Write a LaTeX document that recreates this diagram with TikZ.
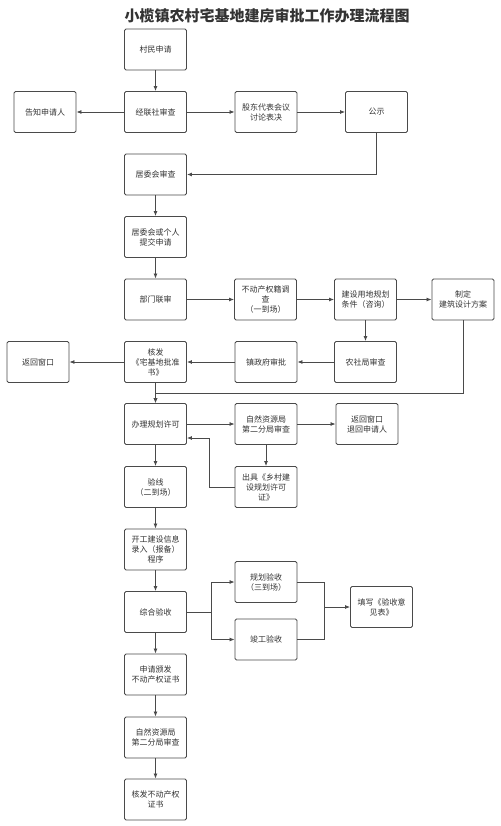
\documentclass[tikz,border=0pt]{standalone}
\usepackage{fontspec}
\setmainfont{Noto Sans CJK SC}
\usepackage{xcolor}
\usetikzlibrary{arrows.meta,calc}
\definecolor{linegray}{HTML}{4A4A4A}
\definecolor{textgray}{HTML}{333333}

\begin{document}
\begin{tikzpicture}[
          x=1pt,y=-1pt,
          every node/.style={font=\fontsize{8}{10}\selectfont,text=textgray},
          stepbox/.style={draw=linegray,line width=0.9pt,rounded corners=1.5pt,fill=white,
                          minimum width=62pt,minimum height=41pt,align=center,inner sep=2pt},
          arr/.style={-{Latex[length=5pt,width=4pt]}, line width=0.8pt, draw=linegray},
          ln/.style={line width=0.8pt, draw=linegray}
      ]
        \useasboundingbox (0,0) rectangle (500,826);

        \node[font=\fontsize{15}{17}\bfseries\selectfont] (title) at (267,16)
          {小榄镇农村宅基地建房审批工作办理流程图};

        \node[stepbox] (apply)   at (155.5,49.5) {村民申请};
        \node[stepbox] (inform)  at (45,112)     {告知申请人};
        \node[stepbox] (jls)     at (155.5,112)  {经联社审查};
        \node[stepbox] (gudong)  at (266,112)    {股东代表会议\\讨论表决};
        \node[stepbox] (gongshi) at (376.5,112)  {公示};
        \node[stepbox] (jwh)     at (155.5,174.5){居委会审查};
        \node[stepbox] (tijiao)  at (155.5,237)  {居委会或个人\\提交申请};

        \node[stepbox] (lianshen) at (155.5,299.5) {部门联审};
        \node[stepbox] (budong)   at (265.5,299.5) {不动产权籍调\\查\\（一到场）};
        \node[stepbox] (ydgh)     at (365.5,299.5) {建设用地规划\\条件（咨询）};
        \node[stepbox] (sheji)    at (463,299.5)   {制定\\建筑设计方案};
        \node[stepbox] (fanhui)   at (38,362)      {返回窗口};
        \node[stepbox] (hefa)     at (155.5,362)   {核发\\《宅基地批准\\书》};
        \node[stepbox] (zhenfu)   at (266,362)     {镇政府审批};
        \node[stepbox] (nongshe)  at (365.5,362)   {农社局审查};

        \node[stepbox] (banli)    at (155.5,424)   {办理规划许可};
        \node[stepbox] (zrzyA)    at (266,424)     {自然资源局\\第二分局审查};
        \node[stepbox] (tuihui)   at (367,424)     {返回窗口\\退回申请人};
        \node[stepbox] (yanxian)  at (155.5,487)   {验线\\（二到场）};
        \node[stepbox] (chuju)    at (266,487)     {出具《乡村建\\设规划许可\\证》};

        \node[stepbox] (kaigong)  at (155.5,549.5) {开工建设信息\\录入（报备）\\程序};
        \node[stepbox] (zonghe)   at (155.5,612)   {综合验收};
        \node[stepbox] (guihua)   at (266,582)     {规划验收\\（三到场）};
        \node[stepbox] (jungong)  at (266,639.5)   {竣工验收};
        \node[stepbox] (tianxie)  at (381.5,607)   {填写《验收意\\见表》};
        \node[stepbox] (shenqing) at (155.5,674.5) {申请颁发\\不动产权证书};
        \node[stepbox] (zrzyB)    at (155.5,737.5) {自然资源局\\第二分局审查};
        \node[stepbox] (hefaB)    at (155.5,799.5) {核发不动产权\\证书};

        \coordinate (join)  at ($(hefa.south)!.5!(banli.north)$);
        \coordinate (split) at (211,612);
        \coordinate (merge) at (324,607);

        \draw[arr] (apply) -- (jls);
        \draw[arr] (jls) -- (inform);
        \draw[arr] (jls) -- (gudong);
        \draw[arr] (gudong) -- (gongshi);
        \draw[arr] (gongshi.south) |- (jwh.east);
        \draw[arr] (jwh) -- (tijiao);
        \draw[arr] (tijiao) -- (lianshen);
        \draw[arr] (lianshen) -- (budong);
        \draw[arr] (budong) -- (ydgh);
        \draw[arr] (ydgh) -- (sheji);
        \draw[arr] (ydgh) -- (nongshe);
        \draw[arr] (nongshe) -- (zhenfu);
        \draw[arr] (zhenfu) -- (hefa);
        \draw[arr] (hefa) -- (fanhui);
        \draw[arr] (hefa) -- (banli);
        \draw[arr] (sheji.south) |- (join) -- (banli.north);
        \draw[arr] (banli) -- (zrzyA);
        \draw[arr] (zrzyA) -- (tuihui);
        \draw[arr] (zrzyA) -- (chuju);
        \draw[arr] (chuju.west) -- ++(-25,0) |- ([yshift=-14pt]banli.east);
        \draw[arr] (banli) -- (yanxian);
        \draw[arr] (yanxian) -- (kaigong);
        \draw[arr] (kaigong) -- (zonghe);
        \draw[ln]  (zonghe.east) -- (split);
        \draw[arr] (split) |- (guihua.west);
        \draw[arr] (split) |- (jungong.west);
        \draw[ln]  (guihua.east) -| (merge);
        \draw[ln]  (jungong.east) -| (merge);
        \draw[arr] (merge) -- (tianxie);
        \draw[arr] (zonghe) -- (shenqing);
        \draw[arr] (shenqing) -- (zrzyB);
        \draw[arr] (zrzyB) -- (hefaB);
      \end{tikzpicture}
\end{document}
